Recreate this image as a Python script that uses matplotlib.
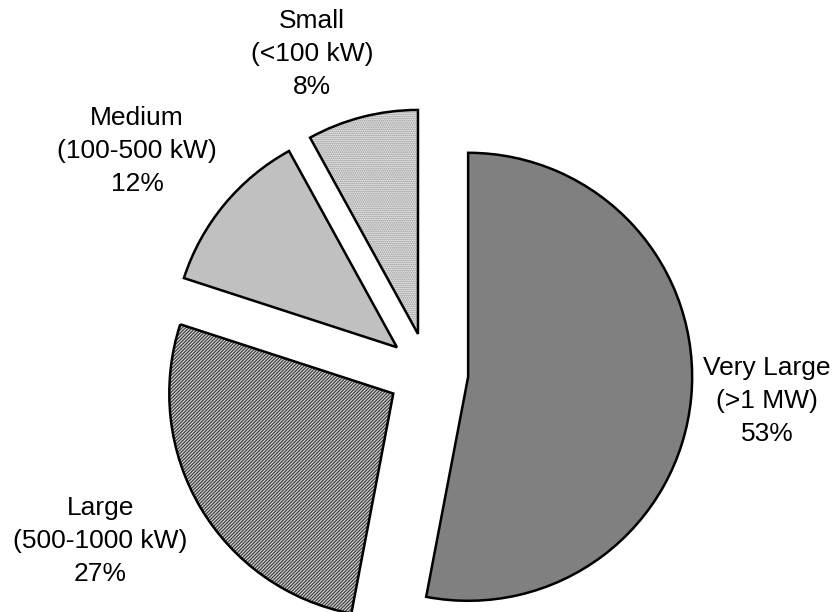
import numpy as np
import matplotlib
matplotlib.use("Agg")
import matplotlib.pyplot as plt
from matplotlib.patches import Wedge

plt.rcParams['font.family'] = ['Liberation Sans', 'DejaVu Sans']
plt.rcParams['hatch.linewidth'] = 0.9

labels = ['Very Large\n(>1 MW)\n53%', 'Large\n(500-1000 kW)\n27%',
          'Medium\n(100-500 kW)\n12%', 'Small\n(<100 kW)\n8%']
shares = [53, 27, 12, 8]
colors = ['#808080', '#d8d8d8', '#c0c0c0', '#f0f0f0']
hatches = [None, '//////////', None, '........']
hatch_colors = [None, '#404040', None, '#8a8a8a']
# label centres, in pie radii from the pie centre
label_xy = [(1.513, -0.125), (-1.464, -0.75), (-1.299, 0.99), (-0.518, 1.424)]

fig = plt.figure(figsize=(8.36, 6.12), dpi=100)
ax = fig.add_axes([0, 0, 1, 1])

wedges, _ = ax.pie(shares, colors=colors, startangle=90, counterclock=False,
                   explode=[0.18] * 4, radius=1.0,
                   wedgeprops=dict(edgecolor='black', linewidth=1.8))

for w, c, h, hc, lab, (lx, ly) in zip(wedges, colors, hatches, hatch_colors, labels, label_xy):
    if h:
        # base fill, then hatch layer, then the black outline on top
        z = w.get_zorder()
        ax.add_patch(Wedge(w.center, w.r, w.theta1, w.theta2, facecolor=c,
                           linewidth=0, zorder=z - 0.2))
        ax.add_patch(Wedge(w.center, w.r, w.theta1, w.theta2, fill=False,
                           hatch=h, edgecolor=hc, linewidth=0, zorder=z - 0.1))
        w.set_facecolor('none')
    ax.text(lx, ly, lab, ha='center', va='center', fontsize=19, linespacing=1.47)

r = 224.0
ax.set_xlim(-428 / r, (836 - 428) / r)
ax.set_ylim(-(612 - 373) / r, 373 / r)
ax.set_aspect('auto')
ax.axis('off')

fig.savefig('out.png', dpi=100)
